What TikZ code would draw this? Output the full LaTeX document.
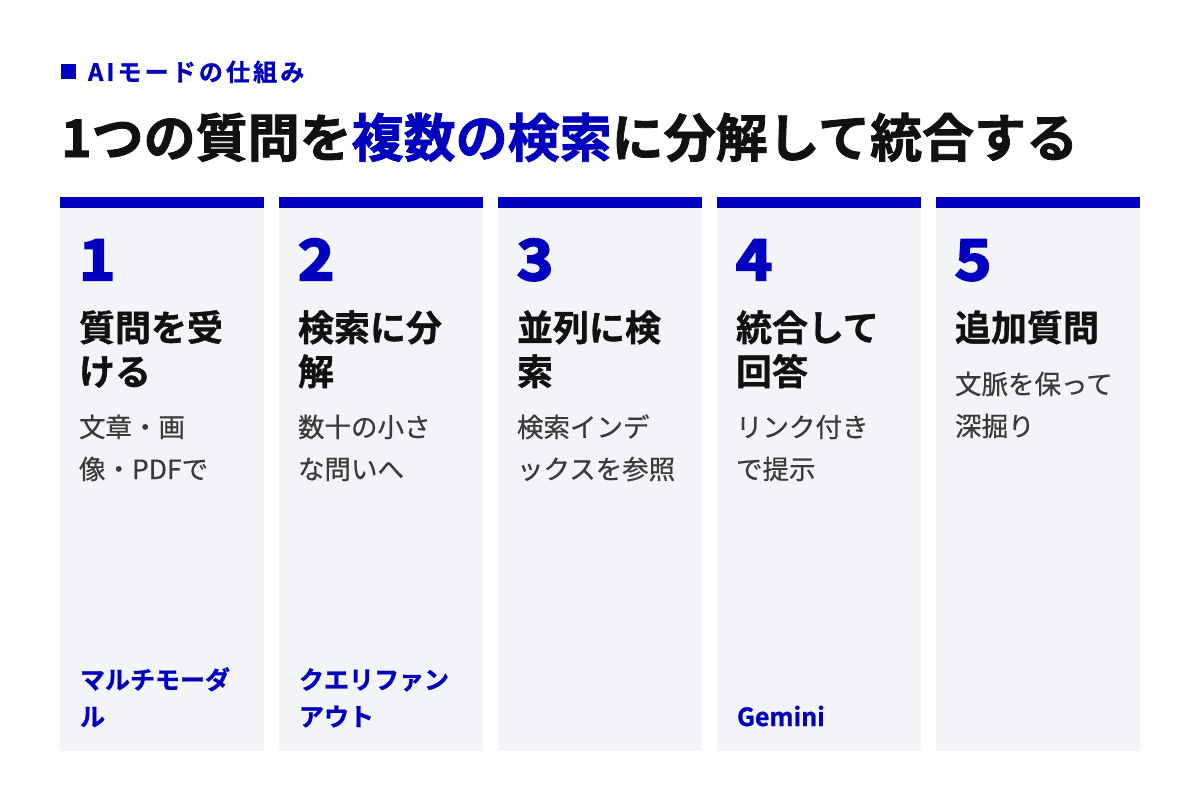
\documentclass[tikz,border=0pt]{standalone}
\usepackage{fontspec}
\setmainfont{Noto Sans CJK JP}[BoldFont={Noto Sans CJK JP Bold}]
\newfontfamily\jpb{Noto Sans CJK JP Bold}
\newfontfamily\jph{Noto Sans CJK JP Bold}[FakeBold=1.5]
\newfontfamily\jpnum{Noto Sans CJK JP Bold}[FakeBold=4,FakeStretch=1.1]
\newfontfamily\jpt{Noto Sans CJK JP Bold}[FakeBold=1]
\newfontfamily\jpd{Noto Sans CJK JP}[FakeBold=0.5]
\newfontfamily\jplabel{Noto Sans CJK JP Bold}[LetterSpace=13,FakeBold=1]
\definecolor{brand}{RGB}{0,0,190}
\definecolor{cardbg}{RGB}{243,244,248}
\definecolor{ink}{RGB}{17,17,17}
\definecolor{desc}{RGB}{58,58,58}
\tikzset{
  txt/.style={anchor=base west, inner sep=0pt, outer sep=0pt},
  lbl/.style={txt, text=brand, font=\jplabel\fontsize{24}{24}\selectfont},
  headline/.style={txt, text=ink, font=\jph\fontsize{52}{52}\selectfont},
  num/.style={txt, text=brand, font=\jpnum\fontsize{56}{56}\selectfont},
  ctitle/.style={txt, text=ink, font=\jpt\fontsize{36}{36}\selectfont},
  cdesc/.style={txt, text=desc, font=\jpd\fontsize{26.5}{26.5}\selectfont},
  ctag/.style={txt, text=brand, font=\jpt\fontsize{25}{25}\selectfont},
  cardbox/.style={fill=cardbg, draw=none},
  cardbar/.style={fill=brand, draw=none}
}
\begin{document}
\begin{tikzpicture}[x=1pt,y=-1pt]
\useasboundingbox (0,0) rectangle (1200,800);
\fill[white] (0,0) rectangle (1200,800);
% header
\fill[brand] (61,64) rectangle (76,79);
\node[lbl] (label) at (88,81) {AIモードの仕組み};
\node[headline] (title) at (61,157) {1つの質問を\textcolor{brand}{複数の検索}に分解して統合する};
% cards
\foreach \i/\x in {1/60,2/279,3/498,4/717,5/936}{
  \fill[cardbox] (\x,197) rectangle ++(204,554);
  \fill[cardbar] (\x,197) rectangle ++(204,11);
}
% card 1
\node[num] (n1) at (79,280) {1};
\node[ctitle] (t1a) at (79,341) {質問を受};
\node[ctitle] (t1b) at (79,385) {ける};
\node[cdesc] (d1a) at (79,437) {文章・画};
\node[cdesc] (d1b) at (79,479) {像・PDFで};
\node[ctag] (g1a) at (80,689) {マルチモーダ};
\node[ctag] (g1b) at (80,726) {ル};
% card 2
\node[num] (n2) at (298,280) {2};
\node[ctitle] (t2a) at (298,341) {検索に分};
\node[ctitle] (t2b) at (298,385) {解};
\node[cdesc] (d2a) at (298,437) {数十の小さ};
\node[cdesc] (d2b) at (298,479) {な問いへ};
\node[ctag] (g2a) at (299,689) {クエリファン};
\node[ctag] (g2b) at (299,726) {アウト};
% card 3
\node[num] (n3) at (517,280) {3};
\node[ctitle] (t3a) at (517,341) {並列に検};
\node[ctitle] (t3b) at (517,385) {索};
\node[cdesc] (d3a) at (517,437) {検索インデ};
\node[cdesc] (d3b) at (517,479) {ックスを参照};
% card 4
\node[num] (n4) at (736,280) {4};
\node[ctitle] (t4a) at (736,341) {統合して};
\node[ctitle] (t4b) at (736,385) {回答};
\node[cdesc] (d4a) at (736,437) {リンク付き};
\node[cdesc] (d4b) at (736,479) {で提示};
\node[ctag] (g4a) at (737,726) {Gemini};
% card 5
\node[num] (n5) at (955,280) {5};
\node[ctitle] (t5a) at (955,341) {追加質問};
\node[cdesc] (d5a) at (955,394) {文脈を保って};
\node[cdesc] (d5b) at (955,436) {深掘り};
\end{tikzpicture}
\end{document}
